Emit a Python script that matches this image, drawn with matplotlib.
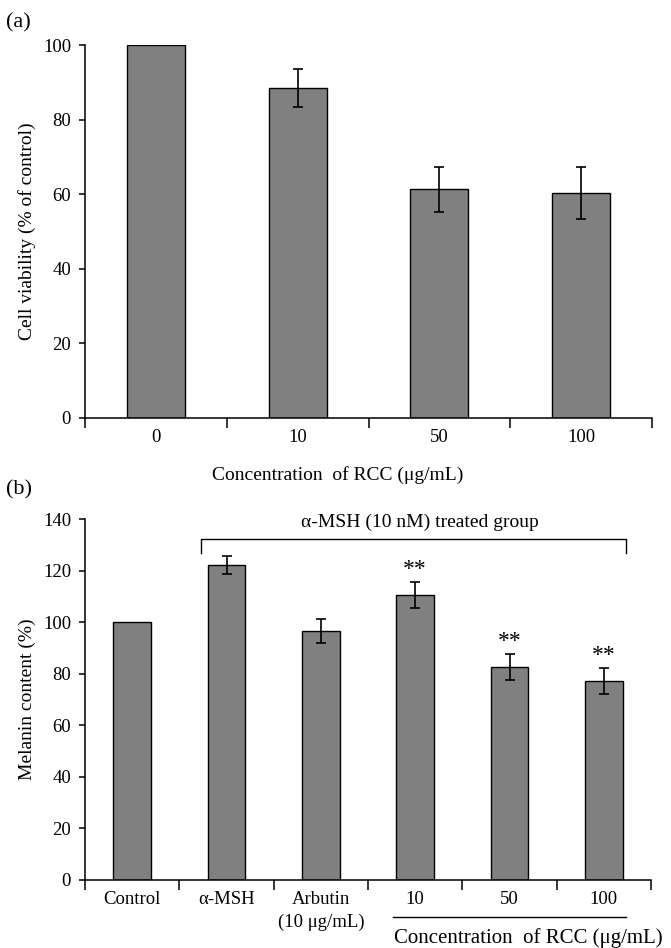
import matplotlib
matplotlib.use("Agg")
import matplotlib.pyplot as plt
import matplotlib.transforms as mtransforms
import numpy as np

plt.rcParams['font.family'] = ['Liberation Serif', 'DejaVu Serif']

# Panel (a) data
conc_labels = ["0", "10", "50", "100"]
viability = [100.0, 88.5, 61.3, 60.3]
viability_err = [0.0, 5.0, 6.0, 7.0]

# Panel (b) data
groups = ["Control", "\u03b1-MSH", "Arbutin\n(10 \u03bcg/mL)", "10", "50", "100"]
melanin = [100.0, 122.2, 96.6, 110.4, 82.6, 77.1]
melanin_err = [0.0, 3.5, 4.5, 5.0, 5.0, 5.0]
stars = ["", "", "", "**", "**", "**"]

BAR_COLOR = "#808080"
W, H = 671, 948
fig = plt.figure(figsize=(W / 100, H / 100), dpi=100)

def fx(px):
    return px / W

def fy(py):
    return 1 - py / H

TICK_FS = 13.5
LABEL_FS = 14

def style_axes(ax, n):
    for s in ["top", "right"]:
        ax.spines[s].set_visible(False)
    ax.spines["left"].set_linewidth(1.1)
    ax.spines["bottom"].set_linewidth(1.1)
    ax.set_xlim(-0.5, n - 0.5)
    ax.set_xticks(np.arange(n))
    ax.set_xticks(np.arange(n + 1) - 0.5, minor=True)
    ax.tick_params(axis="x", which="major", length=0, pad=8, labelsize=TICK_FS)
    ax.tick_params(axis="x", which="minor", direction="out", length=7, width=1.1)
    ax.tick_params(axis="y", direction="out", length=4, width=1.1, labelsize=TICK_FS, pad=6)

# ---------------- Panel (a) ----------------
axa = fig.add_axes([fx(85), fy(418), fx(652) - fx(85), fy(45) - fy(418)])
xa = np.arange(len(conc_labels))
axa.bar(xa, viability, width=0.41, color=BAR_COLOR, edgecolor="black", linewidth=1.0, zorder=2)
axa.errorbar(xa[1:], viability[1:], yerr=viability_err[1:], fmt="none", ecolor="black",
             elinewidth=1.2, capsize=3.5, capthick=1.2, zorder=3)
style_axes(axa, len(conc_labels))
axa.set_ylim(0, 100)
axa.set_yticks(np.arange(0, 101, 20))
axa.set_xticklabels(conc_labels)
axa.set_ylabel("Cell viability (% of control)", fontsize=LABEL_FS)
axa.yaxis.set_label_coords(-0.087, 0.5)
fig.text(fx(338), fy(475), "Concentration  of RCC (\u03bcg/mL)", ha="center", va="center",
         fontsize=LABEL_FS)
fig.text(fx(6), fy(23), "(a)", ha="left", va="center", fontsize=16)

# ---------------- Panel (b) ----------------
axb = fig.add_axes([fx(85), fy(880), fx(651) - fx(85), fy(519) - fy(880)])
xb = np.arange(len(groups))
axb.bar(xb, melanin, width=0.40, color=BAR_COLOR, edgecolor="black", linewidth=1.0, zorder=2)
axb.errorbar(xb[1:], melanin[1:], yerr=melanin_err[1:], fmt="none", ecolor="black",
             elinewidth=1.2, capsize=3.5, capthick=1.2, zorder=3)
style_axes(axb, len(groups))
axb.set_ylim(0, 140)
axb.set_yticks(np.arange(0, 141, 20))
axb.set_xticklabels(groups)
for lbl in axb.get_xticklabels():
    lbl.set_linespacing(1.45)
axb.set_ylabel("Melanin content (%)", fontsize=LABEL_FS)
axb.yaxis.set_label_coords(-0.087, 0.5)

for xi, v, e, s in zip(xb, melanin, melanin_err, stars):
    if s:
        axb.text(xi, v + e + 5.0, s, ha="center", va="center", fontsize=17)

# bracket for alpha-MSH treated group
bx0, bx1, by_top, by_end = 0.73, 5.23, 132.2, 127.0
axb.plot([bx0, bx0, bx1, bx1], [by_end, by_top, by_top, by_end], color="black",
         linewidth=1.0, clip_on=False)
axb.text(3.05, 138.8, "\u03b1-MSH (10 nM) treated group", ha="center", va="center",
         fontsize=LABEL_FS)

# underline for RCC concentrations
trans = mtransforms.blended_transform_factory(axb.transData, axb.transAxes)
axb.plot([2.77, 5.23], [-0.1025, -0.1025], color="black", linewidth=1.0,
         transform=trans, clip_on=False)
axb.text(4.2, -0.16, "Concentration  of RCC (\u03bcg/mL)", ha="center", va="center",
         fontsize=15, transform=trans)
fig.text(fx(6), fy(490), "(b)", ha="left", va="center", fontsize=16)

fig.savefig("out.png", dpi=100)
